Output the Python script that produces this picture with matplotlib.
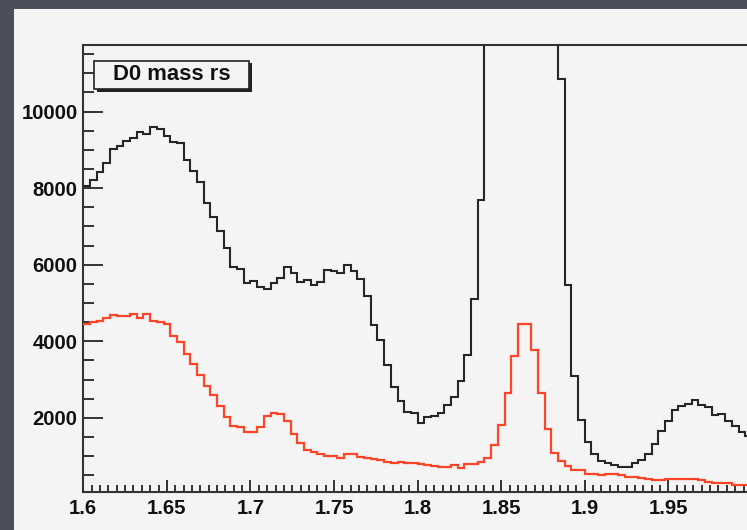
"""
D0 mass, right-sign candidates: full sample vs. selected sample
"""

import numpy as np
from matplotlib import pyplot as plt
from matplotlib.patches import Rectangle
from matplotlib.ticker import FixedLocator, MultipleLocator

# 100 bins of 0.004 GeV between 1.6 and 2.0
bin_lo = 1.6
bin_hi = 2.0
n_bins = 100

# all candidates (the D0 peak bins run far off the top of the frame)
counts_all = [
    8060, 8209, 8433, 8668, 9026, 9105, 9243, 9321, 9470, 9410,
    9593, 9556, 9366, 9217, 9183, 8739, 8444, 8157, 7624, 7258,
    6877, 6441, 5953, 5901, 5519, 5580, 5431, 5363, 5519, 5666,
    5953, 5781, 5546, 5606, 5483, 5546, 5867, 5833, 5781, 5990,
    5841, 5624, 5170, 4431, 4021, 3386, 2804, 2428, 2151, 2125,
    1872, 2021, 2037, 2125, 2342, 2551, 2969, 3648, 5102, 7689,
    14500, 21000, 30000, 41000, 52000, 58000, 55000, 45000, 33000, 22000,
    15000, 10846, 5475, 3099, 1950, 1368, 1063, 880, 820, 775,
    715, 715, 820, 906, 1063, 1324, 1645, 1906, 2193, 2298,
    2368, 2454, 2324, 2282, 2081, 2107, 1906, 1775, 1629, 1514,
]

# after selection cuts
counts_sel = [
    4449, 4491, 4543, 4621, 4692, 4666, 4666, 4718, 4621, 4718,
    4543, 4501, 4439, 4144, 3979, 3666, 3405, 3125, 2838, 2603,
    2316, 2021, 1794, 1760, 1637, 1637, 1760, 2055, 2125, 2089,
    1906, 1565, 1350, 1167, 1097, 1063, 1010, 992, 950, 1063,
    1063, 976, 950, 924, 906, 854, 820, 836, 820, 809,
    802, 775, 731, 723, 723, 757, 697, 794, 794, 854,
    940, 1298, 1802, 2647, 3621, 4449, 4449, 3760, 2647, 1715,
    1090, 870, 730, 645, 645, 540, 540, 496, 540, 540,
    496, 454, 454, 440, 410, 370, 370, 402, 402, 402,
    402, 402, 366, 324, 298, 298, 298, 253, 253, 253,
]

x_ticks = [1.6, 1.65, 1.7, 1.75, 1.8, 1.85, 1.9, 1.95]
x_tick_labels = ["1.6", "1.65", "1.7", "1.75", "1.8", "1.85", "1.9", "1.95"]
y_ticks = [2000, 4000, 6000, 8000, 10000]
y_tick_labels = ["2000", "4000", "6000", "8000", "10000"]

title = "D0 mass rs"

W, H = 747, 530
bg = "#4b4f5a"
pad_col = "#f4f4f4"
font = ["Liberation Sans", "DejaVu Sans"]

fig = plt.figure(figsize=(W / 100, H / 100), dpi=100)
fig.patch.set_facecolor(bg)

# canvas pad, behind the axes
fig.patches.append(Rectangle((14.5 / W, 0), 1, (H - 9) / H,
                             transform=fig.transFigure, facecolor=pad_col,
                             edgecolor="none", zorder=-10))

ax = fig.add_axes([83.3 / W, (H - 492.3) / H, (751.9 - 83.3) / W, (492.3 - 45) / H])
ax.set_facecolor(pad_col)

edges = np.linspace(bin_lo, bin_hi, n_bins + 1)
ax.stairs(counts_all, edges, baseline=None, color="#262626", lw=1.5, zorder=3)
ax.stairs(counts_sel, edges, baseline=None, color="#ff4528", lw=1.6, zorder=4)

ax.set_xlim(bin_lo, bin_hi)
ax.set_ylim(55, 11740)

ax.xaxis.set_major_locator(FixedLocator(x_ticks))
ax.set_xticklabels(x_tick_labels)
ax.xaxis.set_minor_locator(MultipleLocator(0.005))
ax.yaxis.set_major_locator(FixedLocator(y_ticks))
ax.set_yticklabels(y_tick_labels)
ax.yaxis.set_minor_locator(MultipleLocator(500))

ax.tick_params(axis="x", which="major", direction="in", length=9, width=1.4,
               pad=4.5, color="#333333")
ax.tick_params(axis="x", which="minor", direction="in", length=4.8, width=1.4,
               color="#333333")
ax.tick_params(axis="y", which="major", direction="in", length=14.4, width=1.4,
               pad=4, color="#333333")
ax.tick_params(axis="y", which="minor", direction="in", length=7.9, width=1.4,
               color="#333333")
ax.tick_params(top=False, right=False, which="both")

for lab in ax.get_xticklabels() + ax.get_yticklabels():
    lab.set_family(font)
    lab.set_fontweight("bold")
    lab.set_fontsize(14.6)
    lab.set_color("#111111")

for side in ("top", "left", "bottom", "right"):
    ax.spines[side].set_linewidth(1.5)
    ax.spines[side].set_edgecolor("#333333")

# title box with drop shadow
bx0, bx1, by0, by1 = 94.3, 249.3, 60.7, 89.3
sh = 2.5
fig.patches.append(Rectangle(((bx0 + sh) / W, (H - by1 - sh) / H),
                             (bx1 - bx0) / W, (by1 - by0) / H,
                             transform=fig.transFigure, facecolor="#222222",
                             edgecolor="none", zorder=5))
fig.patches.append(Rectangle((bx0 / W, (H - by1) / H),
                             (bx1 - bx0) / W, (by1 - by0) / H,
                             transform=fig.transFigure, facecolor=pad_col,
                             edgecolor="#222222", lw=1.2, zorder=6))
fig.text((bx0 + bx1) / 2 / W, (H - (by0 + by1) / 2) / H, title,
         ha="center", va="center", family=font, fontweight="bold",
         fontsize=15.8, color="#111111", zorder=7)

fig.savefig("out.png", dpi=100, facecolor=bg)
